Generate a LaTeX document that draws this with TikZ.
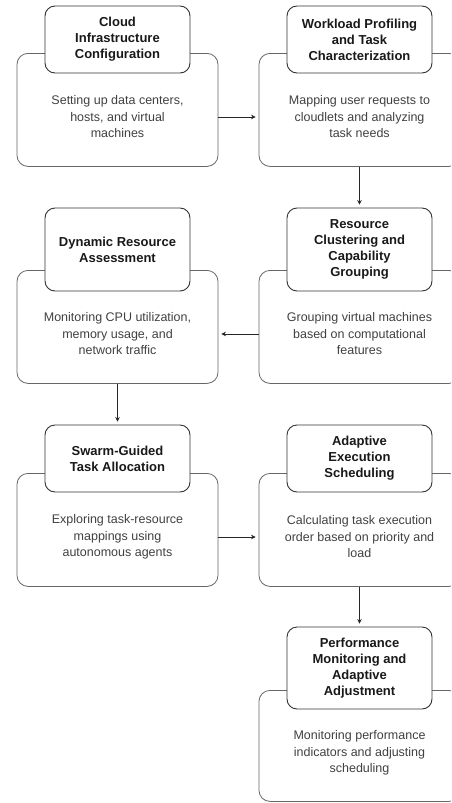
\documentclass[tikz,border=0pt]{standalone}
\usepackage{fontspec}
\setmainfont{Liberation Sans}
\usetikzlibrary{arrows.meta}
\tikzset{
  head/.style={draw=black!80, line width=0.9pt, rounded corners=10pt, fill=white, minimum width=145pt, align=center, text=black!90, font=\bfseries\fontsize{13}{16}\selectfont},
  panel/.style={draw=black!60, line width=0.8pt, rounded corners=11pt, minimum width=201pt, minimum height=113pt, anchor=north},
  desc/.style={align=center, text=black!75, font=\fontsize{12.5}{16.5}\selectfont},
  flow/.style={-{Stealth[length=4.5pt,width=4.5pt]}, line width=0.7pt, black!85, shorten >=3pt}
}
\begin{document}
\begin{tikzpicture}[x=1pt,y=-1pt]
\clip (0,0) rectangle (451,803);
% row 1
\node[panel] (cloudbody) at (117.5,53) {};
\node[head, minimum height=67pt] (cloudhead) at (117.5,39.5) {Cloud\\Infrastructure\\Configuration};
\node[desc] (cloudtxt) at (117.5,117) {Setting up data centers,\\hosts, and virtual\\machines};
\node[panel] (workbody) at (359.5,53) {};
\node[head, minimum height=67pt] (workhead) at (359.5,39.5) {Workload Profiling\\and Task\\Characterization};
\node[desc] (worktxt) at (359.5,117) {Mapping user requests to\\cloudlets and analyzing\\task needs};
% row 2
\node[panel] (dynbody) at (117.5,270) {};
\node[head, minimum height=83pt] (dynhead) at (117.5,249.5) {Dynamic Resource\\Assessment};
\node[desc] (dyntxt) at (117.5,334) {Monitoring CPU utilization,\\memory usage, and\\network traffic};
\node[panel] (clusbody) at (359.5,270) {};
\node[head, minimum height=83pt] (clushead) at (359.5,249.5) {Resource\\Clustering and\\Capability\\Grouping};
\node[desc] (clustxt) at (359.5,334) {Grouping virtual machines\\based on computational\\features};
% row 3
\node[panel] (swarmbody) at (117.5,473) {};
\node[head, minimum height=67pt] (swarmhead) at (117.5,458.5) {Swarm-Guided\\Task Allocation};
\node[desc] (swarmtxt) at (117.5,537) {Exploring task-resource\\mappings using\\autonomous agents};
\node[panel] (schedbody) at (359.5,473) {};
\node[head, minimum height=67pt] (schedhead) at (359.5,458.5) {Adaptive\\Execution\\Scheduling};
\node[desc] (schedtxt) at (359.5,537) {Calculating task execution\\order based on priority and\\load};
% row 4
\node[panel, minimum height=111pt] (perfbody) at (359.5,690) {};
\node[head, minimum height=82pt] (perfhead) at (359.5,668) {Performance\\Monitoring and\\Adaptive\\Adjustment};
\node[desc] (perftxt) at (359.5,753) {Monitoring performance\\indicators and adjusting\\scheduling};
% arrows
\draw[flow] (cloudtxt -| cloudbody.east) -- (worktxt -| workbody.west);
\draw[flow] (workbody.south) -- (clushead.north);
\draw[flow] (clustxt -| clusbody.west) -- (dyntxt -| dynbody.east);
\draw[flow] (dynbody.south) -- (swarmhead.north);
\draw[flow] (swarmtxt -| swarmbody.east) -- (schedtxt -| schedbody.west);
\draw[flow] (schedbody.south) -- (perfhead.north);
\end{tikzpicture}
\end{document}
